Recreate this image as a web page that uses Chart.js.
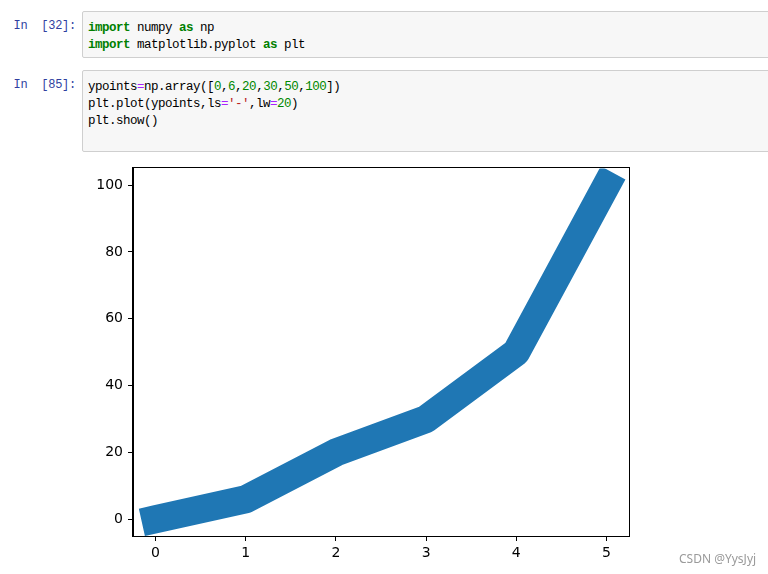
<!DOCTYPE html>
<html>
<head>
<meta charset="utf-8">
<script src="https://cdn.jsdelivr.net/npm/chart.js@4"></script>
<style>
  html, body { margin: 0; padding: 0; background: #fff; overflow: hidden; }
  body { width: 768px; height: 574px; position: relative; }
  .prompt {
    position: absolute; left: 0; width: 76px; text-align: right;
    font: 12px "Liberation Mono", "DejaVu Sans Mono", monospace;
    letter-spacing: -0.25px; color: #303f9f; white-space: pre;
  }
  .cell {
    position: absolute; left: 82px; width: 700px;
    background: #f7f7f7; border: 1px solid #cfcfcf; border-radius: 2px;
    box-sizing: border-box; padding: 8px 0 0 5px;
    font: 12.5px "Liberation Mono", "DejaVu Sans Mono", monospace;
    letter-spacing: -0.5px; line-height: 17px; color: #000; white-space: pre;
  }
  .kw { color: #008000; font-weight: bold; }
  .op { color: #aa22ff; }
  .num { color: #008800; }
  .str { color: #ba2121; }
  #wrap { position: absolute; left: 80px; top: 155px; width: 600px; height: 419px; }
  .mark {
    position: absolute; left: 679px; top: 550px;
    font: 12px "Noto Sans", "DejaVu Sans", sans-serif; color: #9a9a9a;
  }
</style>
</head>
<body>
<div class="prompt" style="top:19px">In  [32]:</div>
<div class="cell" style="top:11px;height:47px"><span class="kw">import</span> numpy <span class="kw">as</span> np
<span class="kw">import</span> matplotlib.pyplot <span class="kw">as</span> plt</div>

<div class="prompt" style="top:78px">In  [85]:</div>
<div class="cell" style="top:70px;height:82px">ypoints<span class="op">=</span>np.array([<span class="num">0</span>,<span class="num">6</span>,<span class="num">20</span>,<span class="num">30</span>,<span class="num">50</span>,<span class="num">100</span>])
plt.plot(ypoints,ls<span class="op">=</span><span class="str">'-'</span>,lw<span class="op">=</span><span class="num">20</span>)
plt.show()</div>

<div id="wrap"><canvas id="chart"></canvas></div>
<div class="mark">CSDN @YysJyj</div>

<script>
// ypoints = np.array([0,6,20,30,50,100])
const xValues = [0, 1, 2, 3, 4, 5];
const yValues = [0, 6, 20, 30, 50, 100];
const xTicks = [0, 1, 2, 3, 4, 5];
const yTicks = [0, 20, 40, 60, 80, 100];

// matplotlib style box round the axes
const frame = {
    id: 'frame',
    afterDatasetsDraw(chart) {
        const { ctx, chartArea: a } = chart;
        ctx.save();
        ctx.strokeStyle = '#000';
        ctx.lineWidth = 1;
        ctx.strokeRect(Math.round(a.left) - 0.5, Math.round(a.top) - 0.5,
            Math.round(a.right - a.left) + 1, Math.round(a.bottom - a.top) + 1);
        ctx.restore();
    }
};

const tickFont = { family: 'DejaVu Sans', size: 14 };

new Chart(document.getElementById('chart'), {
    type: 'line',
    data: {
        datasets: [{
            data: xValues.map((x, i) => ({ x: x, y: yValues[i] })),
            borderColor: '#1f77b4',
            borderWidth: 28,
            borderCapStyle: 'square',
            borderJoinStyle: 'round',
            pointRadius: 0,
            tension: 0,
            fill: false,
            clip: 0
        }]
    },
    options: {
        responsive: true,
        maintainAspectRatio: false,
        animation: false,
        layout: { padding: { left: 0, top: 12, right: 51, bottom: 0 } },
        plugins: { legend: { display: false }, tooltip: { enabled: false } },
        scales: {
            x: {
                type: 'linear',
                min: -0.25,
                max: 5.25,
                afterBuildTicks: s => { s.ticks = xTicks.map(v => ({ value: v })); },
                afterFit: s => { s.height = 38; },
                grid: { drawOnChartArea: false, drawTicks: true, tickLength: 5, color: '#000' },
                border: { display: true, color: '#000', width: 1 },
                ticks: { color: '#000', font: tickFont, padding: 4, maxRotation: 0 }
            },
            y: {
                min: -5,
                max: 105,
                afterBuildTicks: s => { s.ticks = yTicks.map(v => ({ value: v })); },
                afterFit: s => { s.width = 53; },
                grid: { drawOnChartArea: false, drawTicks: true, tickLength: 5, color: '#000' },
                border: { display: true, color: '#000', width: 1 },
                ticks: { color: '#000', font: tickFont, padding: 5 }
            }
        }
    },
    plugins: [frame]
});
</script>
</body>
</html>
